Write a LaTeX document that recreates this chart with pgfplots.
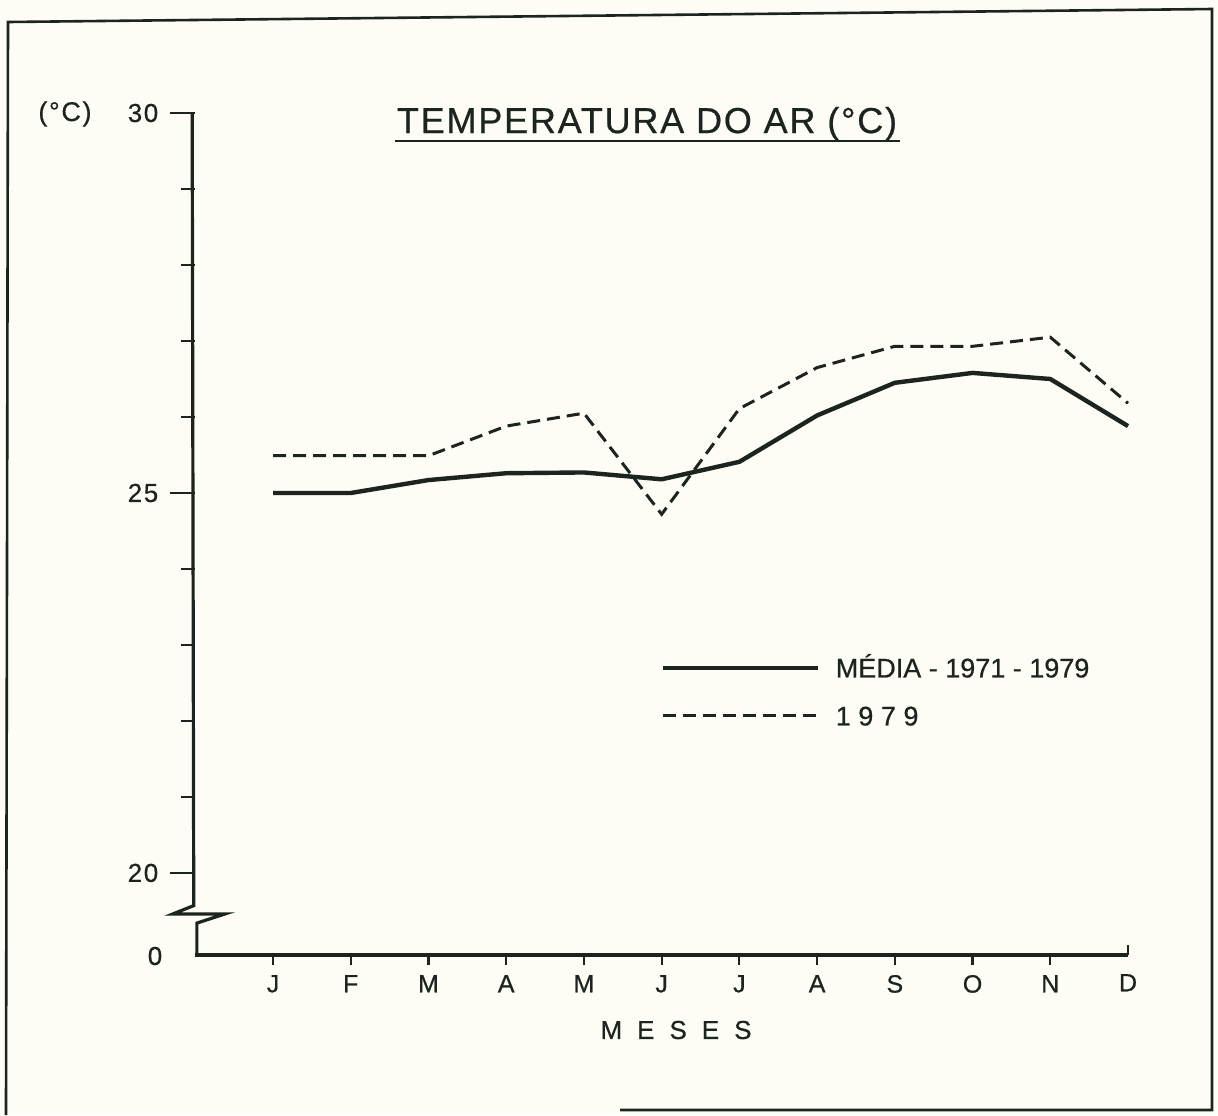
\documentclass[border=0pt]{standalone}
\usepackage{pgfplots}
\pgfplotsset{compat=1.18}
\usepackage{fontspec}
\setmainfont[FakeBold=0.6]{Liberation Sans}
\newfontfamily\titlefont[LetterSpace=5,FakeBold=0.6]{Liberation Sans}
\newfontfamily\legfont[LetterSpace=6,FakeBold=0.6]{Liberation Sans}
\newfontfamily\widefont[LetterSpace=28,FakeBold=0.6]{Liberation Sans}
\definecolor{ink}{HTML}{1C2420}
\definecolor{paper}{HTML}{FDFDF6}
\begin{document}
\begin{tikzpicture}
\begin{scope}[x=0.5pt,y=-0.5pt]
  \useasboundingbox[fill=paper] (0,0) rectangle (1218,1115);
  \draw[ink, line width=1.3pt] (620,1110) -- (1212,1110) -- (1212,9) -- (8,22) -- (6,1115);
  \node[anchor=base, text=ink, inner sep=0pt] at (647,133) {\titlefont\fontsize{18}{18}\selectfont TEMPERATURA DO AR (°C)};
  \draw[ink, line width=1.2pt] (395,141) -- (900,141);
  \node[anchor=west, text=ink, inner sep=0pt] at (38,114) {\legfont\fontsize{13.5}{13.5}\selectfont (°C)};
  \node[anchor=center, text=ink, inner sep=0pt] at (155,956) {\fontsize{13}{13}\selectfont 0};
  \node[anchor=center, text=ink, inner sep=0pt] at (676,1030) {\fontsize{13}{13}\selectfont M\hskip7.5pt E\hskip7.5pt S\hskip7.5pt E\hskip7.5pt S};
\end{scope}
\begin{axis}[
  at={(97.65pt,-477.5pt)}, anchor=south west,
  scale only axis, width=466.35pt, height=421pt,
  xmin=0, xmax=12, ymin=18.92, ymax=30,
  axis x line*=bottom, axis y line*=left,
  y axis line style={draw=none},
  x axis line style={ink, line width=1.6pt, -},
  xtick={1,...,11}, xticklabels={J,F,M,A,M,J,J,A,S,O,N},
  extra x ticks={12}, extra x tick labels={D},
  extra x tick style={tick align=inside, xticklabel style={yshift=-12pt}},
  ytick={20,25,30}, yticklabels={20,25,30},
  minor ytick={21,22,23,24,26,27,28,29},
  tick align=outside,
  major tick length=12.5pt, minor tick length=7pt,
  x tick style={/pgfplots/major tick length=5pt},
  tick style={ink, line width=1.1pt},
  xticklabel style={font=\fontsize{12.5}{12.5}\selectfont, text=ink, yshift=6pt},
  yticklabel style={font=\legfont\fontsize{13}{13}\selectfont, text=ink, xshift=-2.5pt},
  /pgf/number format/assume math mode=true,
  clip=false,
  legend style={at={(0.4982,0.3124)}, anchor=west, draw=none, fill=none,
    inner sep=0pt, row sep=14.5pt, font=\fontsize{13.5}{13.5}\selectfont, text=ink,
    nodes={inner sep=0pt, text height=9.5pt, text depth=0pt},
    /tikz/every odd column/.append style={column sep=8pt}},
  legend cell align=left,
  legend image code/.code={\draw[#1] (0pt,0pt) -- (77.5pt,0pt);},
]
\addplot[ink, line width=2.2pt, line join=round] coordinates {
 (1,25.00) (2,25.00) (3,25.17) (4,25.26) (5,25.27) (6,25.18)
 (7,25.41) (8,26.02) (9,26.45) (10,26.58) (11,26.50) (12,25.88)};
\addlegendentry{MÉDIA - 1971 - 1979}
\addplot[ink, line width=1.5pt, dash pattern=on 6.5pt off 3.5pt] coordinates {
 (1,25.49) (2,25.49) (3,25.49) (4,25.88) (5,26.05) (6,24.72)
 (7,26.11) (8,26.65) (9,26.93) (10,26.93) (11,27.05) (12,26.18)};
\addlegendentry{\widefont 1979}
\draw[ink, line width=1.6pt, line join=miter] (axis cs:-0.04,30) -- (axis cs:-0.02,19.57) -- (axis cs:-0.29,19.46) -- (axis cs:0.38,19.46) -- (axis cs:0.02,19.34) -- (axis cs:0.02,18.92) -- (axis cs:0.3,18.92);
\end{axis}
\end{tikzpicture}
\end{document}
